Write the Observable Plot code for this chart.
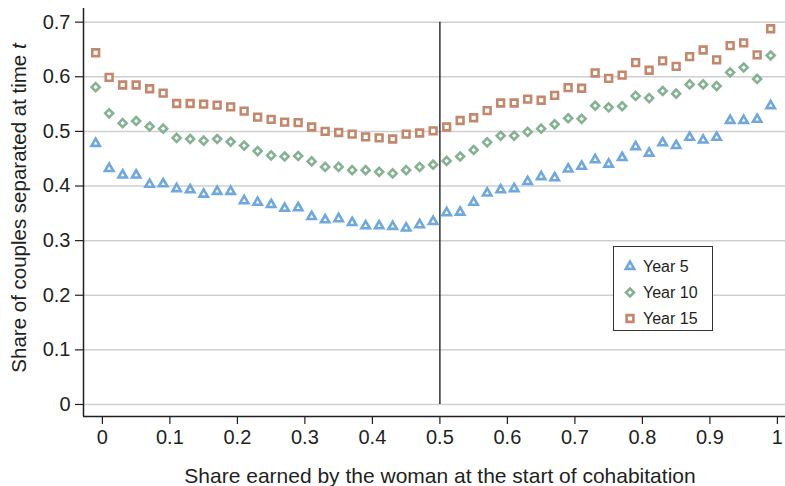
<!DOCTYPE html>
<html>
<head>
<meta charset="utf-8">
<script src="https://cdn.jsdelivr.net/npm/d3@7"></script>
<script src="https://cdn.jsdelivr.net/npm/@observablehq/plot@0.6"></script>
<style>
  html, body { margin: 0; padding: 0; background: #fff; }
  #chart { width: 785px; height: 486px; }
</style>
</head>
<body>
<div id="chart"></div>
<script>
// ---- data ----
const shares = [-0.01,0.01,0.03,0.05,0.07,0.09,0.11,0.13,0.15,0.17,0.19,0.21,0.23,0.25,0.27,0.29,0.31,0.33,0.35,0.37,0.39,0.41,0.43,0.45,0.47,0.49,0.51,0.53,0.55,0.57,0.59,0.61,0.63,0.65,0.67,0.69,0.71,0.73,0.75,0.77,0.79,0.81,0.83,0.85,0.87,0.89,0.91,0.93,0.95,0.97,0.99];
const year5 = [0.478,0.432,0.420,0.420,0.403,0.404,0.395,0.393,0.385,0.390,0.390,0.373,0.370,0.366,0.359,0.360,0.344,0.338,0.340,0.333,0.327,0.327,0.326,0.323,0.329,0.335,0.351,0.352,0.370,0.387,0.393,0.395,0.408,0.417,0.415,0.431,0.436,0.448,0.440,0.452,0.472,0.460,0.479,0.474,0.489,0.484,0.489,0.520,0.520,0.522,0.547];
const year10 = [0.581,0.533,0.515,0.519,0.509,0.505,0.488,0.486,0.483,0.486,0.481,0.474,0.464,0.456,0.454,0.455,0.445,0.435,0.435,0.429,0.429,0.426,0.423,0.429,0.435,0.439,0.446,0.454,0.466,0.480,0.492,0.492,0.499,0.505,0.513,0.524,0.523,0.547,0.544,0.546,0.565,0.561,0.574,0.569,0.586,0.586,0.583,0.608,0.617,0.596,0.639];
const year15 = [0.644,0.599,0.585,0.585,0.578,0.570,0.551,0.551,0.550,0.548,0.545,0.537,0.526,0.522,0.517,0.516,0.508,0.500,0.498,0.495,0.490,0.488,0.486,0.495,0.497,0.501,0.508,0.520,0.525,0.538,0.552,0.552,0.559,0.557,0.566,0.580,0.579,0.607,0.597,0.603,0.626,0.612,0.629,0.619,0.637,0.649,0.631,0.657,0.662,0.640,0.688];
const seriesNames = ["Year 5", "Year 10", "Year 15"];
const seriesValues = [year5, year10, year15];
const seriesSymbols = ["triangle2", "diamond2", "square2"];
const seriesColors = ["#6ea8de", "#86b294", "#c4876b"];
const seriesRadius = [4.0, 3.6, 4.3];
const xTicks = [0,0.1,0.2,0.3,0.4,0.5,0.6,0.7,0.8,0.9,1];
const yTicks = [0,0.1,0.2,0.3,0.4,0.5,0.6,0.7];
const midpoint = [0.5];
const xDomain = [-0.028, 1.012];
const yDomain = [-0.022, 0.725];

const seriesRows = seriesNames.map((name, i) =>
  shares.map((s, j) => ({series: name, share: s, value: seriesValues[i][j]})));

const NARROW = "'Liberation Sans Narrow','Arial Narrow','Liberation Sans',Arial,sans-serif";
const REG = "'Liberation Sans',Arial,Helvetica,sans-serif";
const INK = "#231f20";

const plot = Plot.plot({
  width: 785,
  height: 486,
  marginLeft: 83,
  marginRight: 0,
  marginTop: 8,
  marginBottom: 70,
  style: {fontFamily: NARROW, fontSize: "20px", color: INK, background: "#fff", overflow: "visible"},
  x: {domain: xDomain, label: null},
  y: {domain: yDomain, label: null},
  marks: [
    Plot.gridY(yTicks, {stroke: "#cfcfcf", strokeOpacity: 1, strokeWidth: 1.5}),
    Plot.axisY(yTicks, {tickSize: 8, tickPadding: 5, tickFormat: d3.format("~g"), label: null, stroke: INK, fill: INK, strokeWidth: 1.2}),
    Plot.axisX(xTicks, {tickSize: 8, tickPadding: 5, tickFormat: d3.format("~g"), label: null, stroke: INK, fill: INK, strokeWidth: 1.2}),
    Plot.ruleX([xDomain[0]], {stroke: INK, strokeWidth: 1.5}),
    Plot.ruleY([yDomain[0]], {stroke: INK, strokeWidth: 1.5}),
    Plot.ruleX(midpoint, {y1: yTicks[0], y2: yTicks[yTicks.length - 1], stroke: "#111", strokeWidth: 1.3}),
    ...seriesRows.map((rows, i) =>
      Plot.dot(rows, {x: "share", y: "value", symbol: seriesSymbols[i], stroke: seriesColors[i], fill: "#fff", r: seriesRadius[i], strokeWidth: 2.6}))
  ]
});

document.getElementById("chart").appendChild(plot);

// ---- axis titles and legend ----
const svg = d3.select(plot);

const yl = svg.append("text")
  .attr("transform", "translate(26,208) rotate(-90)")
  .attr("text-anchor", "middle")
  .style("font-family", REG)
  .style("font-size", "20.5px")
  .attr("fill", INK);
yl.append("tspan").text("Share of couples separated at time ");
yl.append("tspan").style("font-style", "italic").text("t");

svg.append("text")
  .attr("x", 440)
  .attr("y", 483)
  .attr("text-anchor", "middle")
  .style("font-family", REG)
  .style("font-size", "21px")
  .attr("fill", INK)
  .text("Share earned by the woman at the start of cohabitation");

const symbolTypes = {triangle2: d3.symbolTriangle2, diamond2: d3.symbolDiamond2, square2: d3.symbolSquare2};
const lg = svg.append("g");
lg.append("rect")
  .attr("x", 613.5).attr("y", 246.5).attr("width", 99).attr("height", 84)
  .attr("fill", "#fff").attr("stroke", "#333").attr("stroke-width", 1);
seriesNames.forEach((name, i) => {
  const cy = 266.5 + i * 26;
  lg.append("path")
    .attr("transform", `translate(630,${cy})`)
    .attr("d", d3.symbol(symbolTypes[seriesSymbols[i]], Math.PI * seriesRadius[i] * seriesRadius[i])())
    .attr("fill", "#fff")
    .attr("stroke", seriesColors[i])
    .attr("stroke-width", 2.6);
  lg.append("text")
    .attr("x", 643)
    .attr("y", cy)
    .attr("dy", "0.36em")
    .attr("text-anchor", "start")
    .style("font-family", REG)
    .style("font-size", "16px")
    .attr("fill", INK)
    .text(name);
});
</script>
</body>
</html>
